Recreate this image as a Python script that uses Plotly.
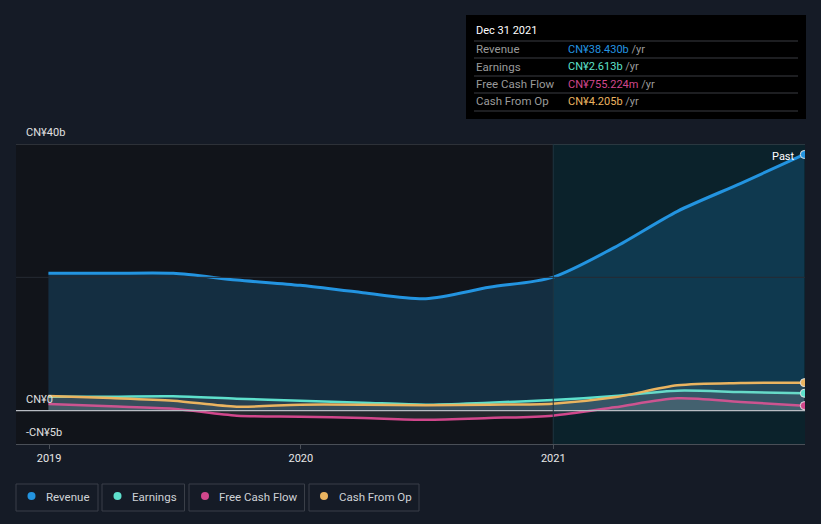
import plotly.graph_objects as go

dates = ["2018-12-31", "2019-03-31", "2019-06-30", "2019-09-30", "2019-12-31",
         "2020-03-31", "2020-06-30", "2020-09-30", "2020-12-31",
         "2021-03-31", "2021-06-30", "2021-09-30", "2021-12-31"]
revenue = [20.6, 20.6, 20.6, 19.6, 18.8, 17.7, 16.8, 18.5, 20.0, 24.5, 29.9, 34.1, 38.43]
earnings = [2.1, 2.1, 2.15, 1.8, 1.5, 1.2, 0.9, 1.2, 1.6, 2.2, 3.0, 2.8, 2.613]
fcf = [1.0, 0.65, 0.3, -0.75, -0.9, -1.1, -1.35, -1.1, -0.75, 0.5, 1.85, 1.3, 0.755]
cfo = [2.2, 1.9, 1.5, 0.6, 0.9, 0.9, 0.8, 0.9, 1.05, 2.0, 3.8, 4.15, 4.205]

series = [
    ("Revenue", revenue, "#2394e0", "CN¥38.430b"),
    ("Earnings", earnings, "#5ee0cc", "CN¥2.613b"),
    ("Free Cash Flow", fcf, "#d1478c", "CN¥755.224m"),
    ("Cash From Op", cfo, "#eab460", "CN¥4.205b"),
]
y_ticks = [40, 0, -5]
y_tick_labels = ["CN¥40b", "CN¥0", "-CN¥5b"]
x_ticks = ["2019-01-01", "2020-01-01", "2021-01-01"]
past_start = "2021-01-01"
x_range = ["2018-11-14", "2022-01-01"]
y_range = [-5, 40]

W, H = 821, 524
L, R, T, B = 16, 805, 144, 444


def xp(px):
    return (px - L) / (R - L)


def yp(py):
    return (B - py) / (B - T)


BG = "#151b26"
PLOT_BG = "#11141a"

fig = go.Figure()

# past region
fig.add_shape(type="rect", xref="x", yref="paper", x0=past_start, x1=x_range[1],
              y0=0, y1=1, fillcolor="#0b222b", line=dict(width=0), layer="below")

# fills
for i, (name, vals, color, _) in enumerate(series):
    if name == "Revenue":
        fc = "rgba(35,148,224,0.2)"
        lw = 3
    else:
        fc = "rgba(170,175,180,0.13)"
        lw = 2.5
    fig.add_trace(go.Scatter(x=dates, y=vals, mode="lines", line=dict(color=color, width=lw, shape="spline", smoothing=0.8),
                             fill="tozeroy", fillcolor=fc, name=name, hoverinfo="skip", showlegend=False))

# end markers
for name, vals, color, _ in series:
    fig.add_trace(go.Scatter(x=[dates[-1]], y=[vals[-1]], mode="markers",
                             marker=dict(size=8, color=color, line=dict(color="#e0e0e0", width=1)),
                             hoverinfo="skip", showlegend=False))

# horizontal lines
fig.add_shape(type="line", xref="paper", yref="y", x0=0, x1=1, y0=40, y1=40, line=dict(color="#4a4f57", width=1))
fig.add_shape(type="line", xref="paper", yref="y", x0=0, x1=1, y0=20, y1=20, line=dict(color="#262b33", width=1))
fig.add_shape(type="line", xref="paper", yref="y", x0=0, x1=1, y0=0, y1=0, line=dict(color="#b8bcc2", width=1.2))
fig.add_shape(type="line", xref="x", yref="paper", x0=past_start, x1=past_start, y0=0, y1=1,
              line=dict(color="#1e3440", width=1))

annotations = []
for v, lab in zip(y_ticks, y_tick_labels):
    annotations.append(dict(x=xp(24), y=v, xref="paper", yref="y", text=lab, showarrow=False,
                            xanchor="left", yanchor="bottom", yshift=3,
                            font=dict(color="#e0e0e0", size=11)))

annotations.append(dict(x=xp(797), y=yp(156), xref="paper", yref="paper", text="Past", showarrow=False,
                        xanchor="right", yanchor="middle", font=dict(color="#ffffff", size=11)))

# tooltip box
fig.add_shape(type="rect", xref="paper", yref="paper", x0=xp(466), x1=xp(806), y0=yp(119), y1=yp(15),
              fillcolor="#000000", line=dict(width=0))
annotations.append(dict(x=xp(474), y=yp(31), xref="paper", yref="paper", text="Dec 31 2021", showarrow=False,
                        xanchor="left", yanchor="middle", font=dict(color="#ffffff", size=11)))
for sy in [41, 58, 76, 93, 111]:
    fig.add_shape(type="line", xref="paper", yref="paper", x0=xp(474), x1=xp(798), y0=yp(sy), y1=yp(sy),
                  line=dict(color="#3a3d42", width=1))
for (name, vals, color, valtxt), ry in zip(series, [49, 66.5, 84, 101]):
    annotations.append(dict(x=xp(474), y=yp(ry), xref="paper", yref="paper", text=name, showarrow=False,
                            xanchor="left", yanchor="middle", font=dict(color="#9a9a9a", size=11.5)))
    annotations.append(dict(x=xp(566), y=yp(ry), xref="paper", yref="paper",
                            text=f"<span style='color:{color}'>{valtxt}</span> <span style='color:#9a9a9a'>/yr</span>",
                            showarrow=False, xanchor="left", yanchor="middle", font=dict(size=11)))

# legend boxes
legend_boxes = [(16, 98, 31.5, 44), (102, 184.5, 117.5, 130), (189, 304.5, 205, 217), (309, 419, 324, 337)]
for (name, vals, color, _), (bx0, bx1, dx, tx) in zip(series, legend_boxes):
    fig.add_shape(type="rect", xref="paper", yref="paper", x0=xp(bx0), x1=xp(bx1), y0=yp(511), y1=yp(484),
                  line=dict(color="#3a3f48", width=1), fillcolor="rgba(0,0,0,0)")
    fig.add_shape(type="circle", xref="paper", yref="paper", x0=xp(dx - 4), x1=xp(dx + 4), y0=yp(500), y1=yp(492),
                  fillcolor=color, line=dict(width=0))
    annotations.append(dict(x=xp(tx), y=yp(496.5), xref="paper", yref="paper", text=name, showarrow=False,
                            xanchor="left", yanchor="middle", font=dict(color="#cfd2d6", size=11.5)))

fig.update_layout(
    width=W, height=H,
    margin=dict(l=L, r=W - R, t=T, b=H - B, pad=0),
    paper_bgcolor=BG, plot_bgcolor=PLOT_BG,
    font=dict(family="Roboto, sans-serif", color="#e0e0e0", size=11),
    showlegend=False,
    annotations=annotations,
    xaxis=dict(type="date", range=x_range, tickvals=x_ticks, tickformat="%Y", showgrid=False,
               zeroline=False, showline=True, linecolor="#4a4f57", ticks="outside", ticklen=4,
               tickcolor="#4a4f57", tickfont=dict(color="#e8e8e8", size=11), fixedrange=True),
    yaxis=dict(range=y_range, showgrid=False, zeroline=False, showticklabels=False, fixedrange=True),
)

fig.write_html("out.html", config={"displayModeBar": False},
               post_script="document.body.style.margin='0';document.body.style.background='" + BG + "';")
